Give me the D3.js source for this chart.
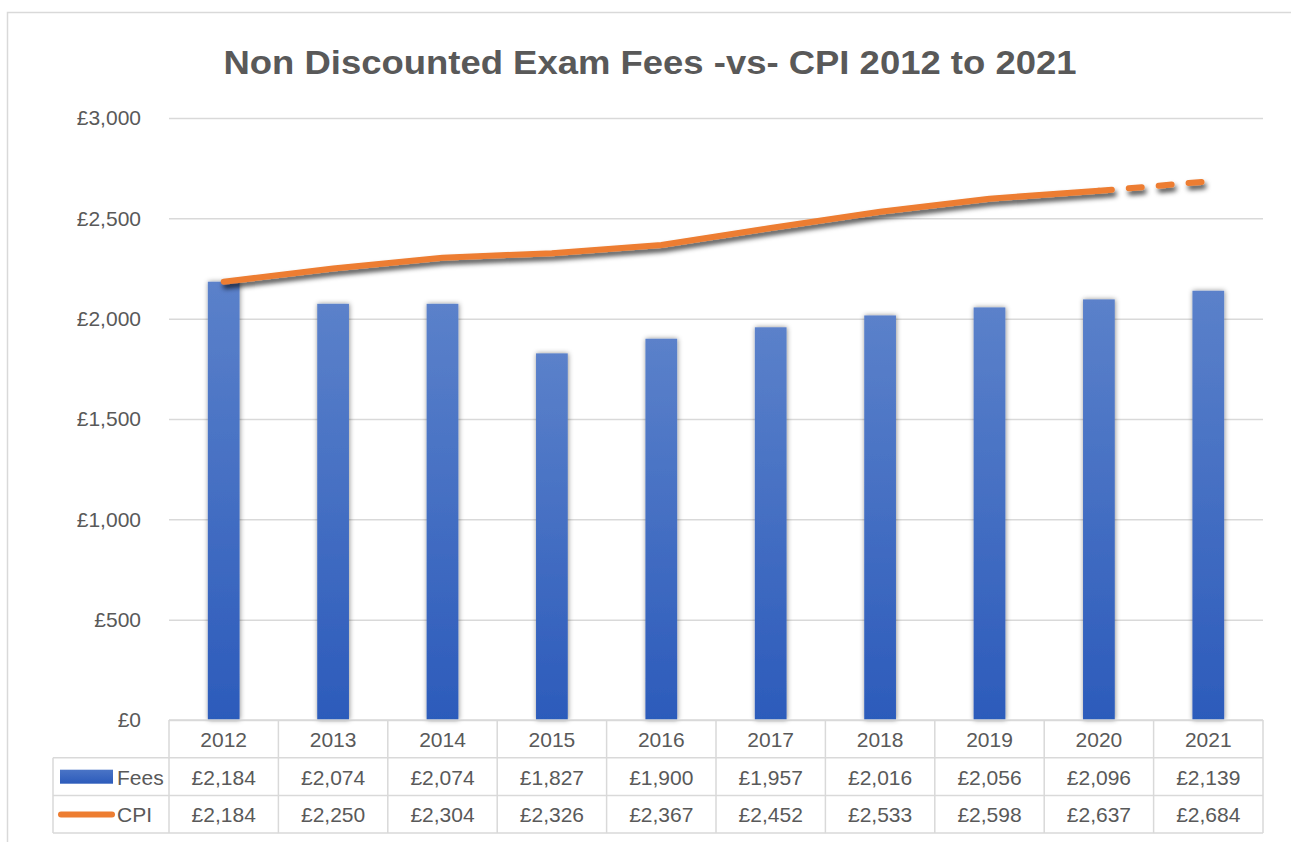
<!DOCTYPE html>
<html>
<head>
<meta charset="utf-8">
<script src="https://cdn.jsdelivr.net/npm/d3@7"></script>
<style>
  body { margin: 0; background: #fff; }
  text { font-family: "Liberation Sans", Arial, sans-serif; fill: #595959; }
</style>
</head>
<body>
<svg width="1291" height="842"></svg>
<script>
// chart data
var years = ["2012","2013","2014","2015","2016","2017","2018","2019","2020","2021"];
var fees = [2184, 2074, 2074, 1827, 1900, 1957, 2016, 2056, 2096, 2139];
var cpi = [2184, 2250, 2304, 2326, 2367, 2452, 2533, 2598, 2637, 2684];
var yTicks = [0, 500, 1000, 1500, 2000, 2500, 3000];
var seriesNames = ["Fees", "CPI"];
var title = "Non Discounted Exam Fees -vs- CPI 2012 to 2021";

var svg = d3.select('svg');
var margin = {top: 118, left: 169, right: 28, bottom: 122},
    width = +svg.attr("width") - margin.left - margin.right,
    height = +svg.attr("height") - margin.top - margin.bottom;
var rowH = 37.7;

var fmt = function(v) { return "£" + d3.format(",")(v); };

var x = d3.scaleBand()
    .domain(years)
    .range([margin.left, margin.left + width])
    .paddingInner(0.71)
    .paddingOuter(0.355);

var xCol = d3.scaleBand()
    .domain(years)
    .range([margin.left, margin.left + width]);

var y = d3.scaleLinear()
    .domain([0, 3000])
    .range([margin.top + height, margin.top]);

var defs = svg.append("defs");
var grad = defs.append("linearGradient")
    .attr("id", "barGrad")
    .attr("x1", 0).attr("y1", 0).attr("x2", 0).attr("y2", 1);
grad.append("stop").attr("offset", "0%").attr("stop-color", "#5b81ca");
grad.append("stop").attr("offset", "100%").attr("stop-color", "#2c5bbb");

var legGrad = defs.append("linearGradient")
    .attr("id", "legGrad")
    .attr("x1", 0).attr("y1", 0).attr("x2", 0).attr("y2", 1);
legGrad.append("stop").attr("offset", "0%").attr("stop-color", "#4a74c6");
legGrad.append("stop").attr("offset", "100%").attr("stop-color", "#2c5bbb");

defs.append("filter")
    .attr("id", "barShadow")
    .attr("x", "-40%").attr("y", "-10%").attr("width", "180%").attr("height", "120%")
  .append("feDropShadow")
    .attr("dx", 0.5).attr("dy", 0).attr("stdDeviation", 2.4)
    .attr("flood-color", "#000").attr("flood-opacity", 0.45);

defs.append("filter")
    .attr("id", "lineShadow")
    .attr("x", "-10%").attr("y", "-50%").attr("width", "120%").attr("height", "200%")
  .append("feDropShadow")
    .attr("dx", 2).attr("dy", 4).attr("stdDeviation", 2.8)
    .attr("flood-color", "#000").attr("flood-opacity", 0.7);

// outer frame
svg.append("rect")
    .attr("x", 7.5).attr("y", 12.5)
    .attr("width", 1300).attr("height", 900)
    .attr("fill", "none")
    .attr("stroke", "#d9d9d9")
    .attr("stroke-width", 1.5);

svg.append("text")
    .attr("x", 650)
    .attr("y", 74)
    .attr("text-anchor", "middle")
    .attr("textLength", 853)
    .attr("lengthAdjust", "spacingAndGlyphs")
    .style("font-size", "33px")
    .style("font-weight", "bold")
    .text(title);

// gridlines + y labels
var yAxis = d3.axisLeft(y)
    .tickValues(yTicks)
    .tickSize(-width)
    .tickPadding(28)
    .tickFormat(fmt);

var gy = svg.append("g")
    .attr("transform", "translate(" + margin.left + ",0)")
    .call(yAxis);
gy.select(".domain").remove();
gy.selectAll("line").attr("stroke", "#d9d9d9").attr("stroke-width", 1.5);
gy.selectAll("text").style("font-size", "21px").style("fill", "#595959").attr("font-family", null);

// bars
svg.append("g").selectAll("rect")
    .data(fees)
    .enter().append("rect")
    .attr("x", function(d, i) { return x(years[i]); })
    .attr("y", function(d) { return y(d); })
    .attr("width", x.bandwidth())
    .attr("height", function(d) { return y(0) - y(d); })
    .attr("fill", "url(#barGrad)")
    .attr("filter", "url(#barShadow)");

// CPI line, last segment dashed
var pts = cpi.map(function(d, i) { return [xCol(years[i]) + xCol.bandwidth() / 2, y(d)]; });
var line = d3.line();
var lg = svg.append("g").attr("filter", "url(#lineShadow)");
lg.append("path")
    .attr("d", line(pts.slice(0, pts.length - 1)))
    .attr("fill", "none")
    .attr("stroke", "#ed7d31")
    .attr("stroke-width", 6)
    .attr("stroke-linecap", "round")
    .attr("stroke-linejoin", "round");
lg.append("path")
    .attr("d", line(pts.slice(pts.length - 2)))
    .attr("fill", "none")
    .attr("stroke", "#ed7d31")
    .attr("stroke-width", 6)
    .attr("stroke-linecap", "round")
    .attr("stroke-dasharray", "13,17");

// data table
var tTop = y(0);
var tLeft = 53;
var right = margin.left + width;
var tg = svg.append("g").attr("stroke", "#d9d9d9").attr("stroke-width", 1.5);
tg.append("line").attr("x1", margin.left).attr("x2", right).attr("y1", tTop).attr("y2", tTop);
[1, 2, 3].forEach(function(r) {
    tg.append("line").attr("x1", tLeft).attr("x2", right)
        .attr("y1", tTop + r * rowH).attr("y2", tTop + r * rowH);
});
tg.append("line").attr("x1", tLeft).attr("x2", tLeft).attr("y1", tTop + rowH).attr("y2", tTop + 3 * rowH);
years.forEach(function(yr) {
    tg.append("line").attr("x1", xCol(yr)).attr("x2", xCol(yr)).attr("y1", tTop).attr("y2", tTop + 3 * rowH);
});
tg.append("line").attr("x1", right).attr("x2", right).attr("y1", tTop).attr("y2", tTop + 3 * rowH);

var rows = [years, fees.map(fmt), cpi.map(fmt)];
rows.forEach(function(row, r) {
    svg.append("g").selectAll("text")
        .data(row)
        .enter().append("text")
        .attr("x", function(d, i) { return xCol(years[i]) + xCol.bandwidth() / 2; })
        .attr("y", tTop + r * rowH + 27)
        .attr("text-anchor", "middle")
        .style("font-size", "21px")
        .text(function(d) { return d; });
});

// legend keys in the table
svg.append("rect")
    .attr("x", 60).attr("y", tTop + rowH + 12)
    .attr("width", 53).attr("height", 14)
    .attr("fill", "url(#legGrad)");
svg.append("line")
    .attr("x1", 61).attr("x2", 112)
    .attr("y1", tTop + 2 * rowH + 19).attr("y2", tTop + 2 * rowH + 19)
    .attr("stroke", "#ed7d31")
    .attr("stroke-width", 6)
    .attr("stroke-linecap", "round");
seriesNames.forEach(function(s, i) {
    svg.append("text")
        .attr("x", 117)
        .attr("y", tTop + (i + 1) * rowH + 27)
        .style("font-size", "21px")
        .text(s);
});
</script>
</body>
</html>
